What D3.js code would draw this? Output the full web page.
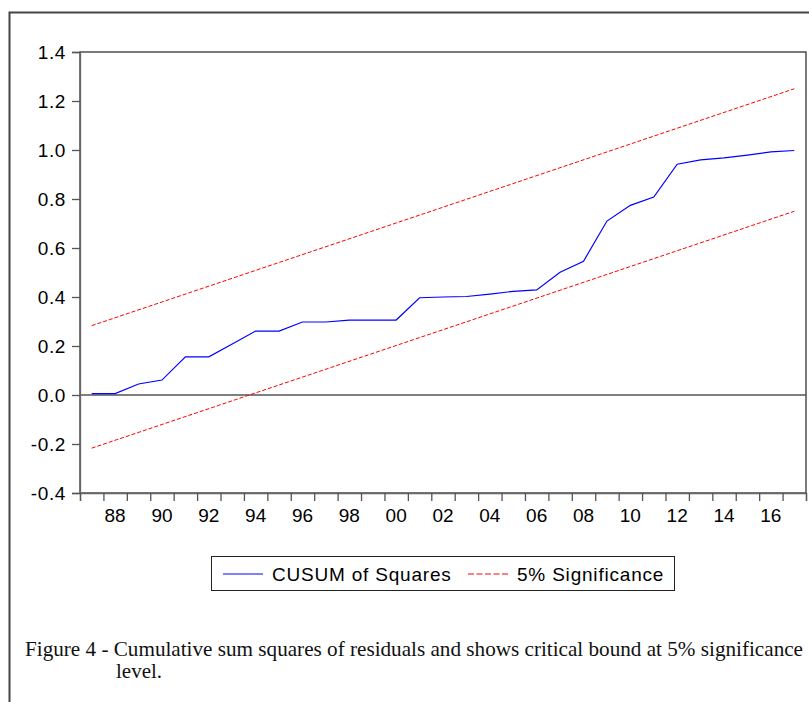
<!DOCTYPE html>
<html>
<head>
<meta charset="utf-8">
<script src="https://cdn.jsdelivr.net/npm/d3@7"></script>
<style>
  body { margin: 0; background: #fff; }
  svg { display: block; }
  .axis text { font-family: "Liberation Sans", Arial, sans-serif; font-size: 19px; fill: #000; }
</style>
</head>
<body>
<svg id="chart"></svg>
<script>
// CUSUM of squares, one value per year
let years = [1987, 1988, 1989, 1990, 1991, 1992, 1993, 1994, 1995, 1996, 1997,
             1998, 1999, 2000, 2001, 2002, 2003, 2004, 2005, 2006, 2007, 2008,
             2009, 2010, 2011, 2012, 2013, 2014, 2015, 2016, 2017];
let cusumSq = [0.006, 0.006, 0.045, 0.061, 0.156, 0.156, 0.208, 0.261, 0.261, 0.298, 0.298,
               0.306, 0.306, 0.306, 0.397, 0.400, 0.402, 0.412, 0.423, 0.429, 0.501, 0.546,
               0.710, 0.774, 0.808, 0.942, 0.960, 0.968, 0.979, 0.992, 0.998];

// 5% bounds (straight lines, read at the ends)
let boundYears = [1987, 2017];
let upperBound = [0.283, 1.25];
let lowerBound = [-0.217, 0.75];

let yTicks = [-0.4, -0.2, 0.0, 0.2, 0.4, 0.6, 0.8, 1.0, 1.2, 1.4];
let xLabelYears = [1988, 1990, 1992, 1994, 1996, 1998, 2000, 2002, 2004, 2006, 2008, 2010, 2012, 2014, 2016];

let width = 809;
let height = 702;
let plotLeft = 80, plotRight = 806, plotTop = 52, plotBottom = 493;

let svg = d3.select("#chart").attr("width", width).attr("height", height);

// outer frame (page box, cut at right and bottom)
svg.append("path")
    .attr("d", "M9.5," + height + " V12.5 H" + width)
    .attr("fill", "none")
    .attr("stroke", "#444")
    .attr("stroke-width", 2);

let xScale = d3.scaleLinear().domain([1987, 2018]).range([plotLeft, plotRight]);
let yScale = d3.scaleLinear().domain([-0.4, 1.4]).range([plotBottom, plotTop]);
let xc = (yr) => xScale(yr + 0.5);

// plot box
svg.append("rect")
    .attr("x", plotLeft).attr("y", plotTop)
    .attr("width", plotRight - plotLeft).attr("height", plotBottom - plotTop)
    .attr("fill", "none")
    .attr("stroke", "#222")
    .attr("stroke-width", 1.2);

// zero line
svg.append("line")
    .attr("x1", plotLeft).attr("x2", plotRight)
    .attr("y1", yScale(0)).attr("y2", yScale(0))
    .attr("stroke", "#555")
    .attr("stroke-width", 1.3);

// y axis
let fmt = d3.format(".1f");
let yAxis = d3.axisLeft(yScale)
    .tickValues(yTicks)
    .tickSize(8)
    .tickPadding(6)
    .tickFormat((d) => fmt(d).replace("\u2212", "-"));

let gy = svg.append("g")
    .attr("class", "axis")
    .attr("transform", "translate(" + plotLeft + ",0)")
    .call(yAxis);
gy.select(".domain").attr("stroke", "#666").attr("stroke-width", 1.3);
gy.selectAll(".tick line").attr("stroke", "#555").attr("stroke-width", 1.3);
gy.selectAll(".tick text").attr("letter-spacing", "0.6px").attr("dy", "0.36em");

// x axis: ticks at year boundaries, labels at year centres
let xAxis = d3.axisBottom(xScale)
    .tickValues(d3.range(1987, 2019))
    .tickSize(8)
    .tickFormat("");

let gx = svg.append("g")
    .attr("class", "axis")
    .attr("transform", "translate(0," + plotBottom + ")")
    .call(xAxis);
gx.select(".domain").attr("stroke", "#666").attr("stroke-width", 1.3);
gx.selectAll(".tick line").attr("stroke", "#555").attr("stroke-width", 1.3);

gx.selectAll(".yrlabel")
    .data(xLabelYears)
    .enter()
    .append("text")
    .attr("class", "yrlabel")
    .attr("x", (d) => xc(d))
    .attr("y", 29)
    .attr("text-anchor", "middle")
    .text((d) => String(d % 100).padStart(2, "0"));

// bounds
let seriesLine = d3.line()
    .x((d) => xc(d[0]))
    .y((d) => yScale(d[1]));

[upperBound, lowerBound].forEach((b) => {
    svg.append("path")
        .datum(boundYears.map((yr, i) => [yr, b[i]]))
        .attr("d", seriesLine)
        .attr("fill", "none")
        .attr("stroke", "#ff0000")
        .attr("stroke-width", 1)
        .attr("stroke-dasharray", "4,2");
});

// CUSUM of squares
svg.append("path")
    .datum(years.map((yr, i) => [yr, cusumSq[i]]))
    .attr("d", seriesLine)
    .attr("fill", "none")
    .attr("stroke", "#0000ff")
    .attr("stroke-width", 1.2);

// legend
let legend = svg.append("g");
legend.append("rect")
    .attr("x", 211.5).attr("y", 556.5)
    .attr("width", 463).attr("height", 34)
    .attr("fill", "#fff")
    .attr("stroke", "#222")
    .attr("stroke-width", 1);
legend.append("line")
    .attr("x1", 223).attr("x2", 263).attr("y1", 574).attr("y2", 574)
    .attr("stroke", "#0000ff").attr("stroke-width", 1.2);
legend.append("line")
    .attr("x1", 468).attr("x2", 509).attr("y1", 574).attr("y2", 574)
    .attr("stroke", "#ff0000").attr("stroke-width", 1)
    .attr("stroke-dasharray", "6,2.5");
let legendLabels = [["CUSUM of Squares", 272], ["5% Significance", 517]];
legendLabels.forEach((l) => {
    legend.append("text")
        .attr("x", l[1]).attr("y", 580.5)
        .attr("letter-spacing", "0.8px")
        .style("font-family", "'Liberation Sans', Arial, sans-serif")
        .style("font-size", "19px")
        .style("fill", "#000")
        .text(l[0]);
});

// caption
let cap1 = svg.append("text")
    .attr("x", 25).attr("y", 656)
    .style("font-family", "'Liberation Serif', 'Times New Roman', serif")
    .style("font-size", "21px")
    .style("fill", "#111")
    .text("Figure 4 - Cumulative sum squares of residuals and shows critical bound at 5% significance");
cap1.attr("textLength", 778).attr("lengthAdjust", "spacingAndGlyphs");

svg.append("text")
    .attr("x", 116).attr("y", 678)
    .style("font-family", "'Liberation Serif', 'Times New Roman', serif")
    .style("font-size", "21px")
    .style("fill", "#111")
    .text("level.");
</script>
</body>
</html>
